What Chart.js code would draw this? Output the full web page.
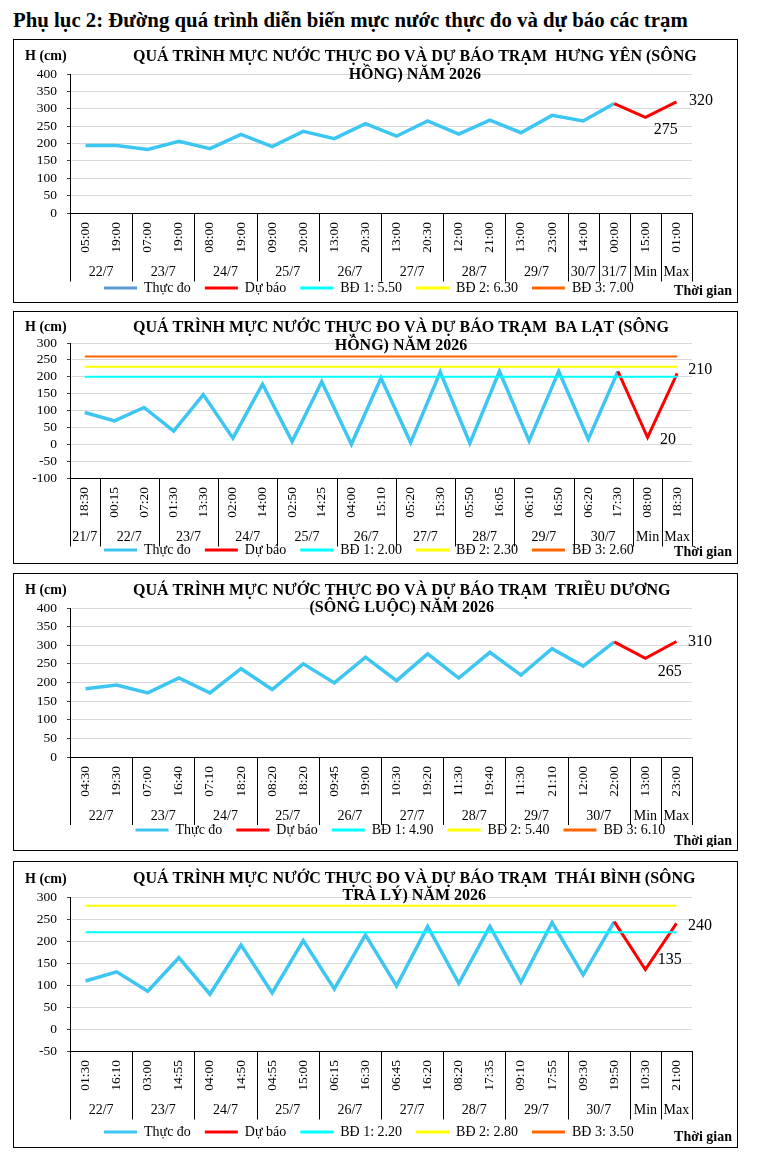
<!DOCTYPE html>
<html lang="vi">
<head>
<meta charset="utf-8">
<title>Phụ lục 2</title>
<script src="https://cdn.jsdelivr.net/npm/chart.js@4.4.1/dist/chart.umd.min.js"></script>
<style>
  html, body { margin: 0; padding: 0; background: #fff; }
  body { width: 760px; height: 1166px; position: relative; font-family: 'Liberation Serif', 'Times New Roman', serif; }
  h1 { position: absolute; left: 13px; top: 8px; margin: 0; font-size: 20.8px; font-weight: bold; line-height: 24px; white-space: nowrap; }
  .frame { position: absolute; left: 13px; width: 725px; border: 1px solid #000; box-sizing: border-box; }
  canvas { position: absolute; left: 14px; }
</style>
</head>
<body>
<h1>Phụ lục 2: Đường quá trình diễn biến mực nước thực đo và dự báo các trạm</h1>
<div class="frame" id="f1"></div><canvas id="c1"></canvas>
<div class="frame" id="f2"></div><canvas id="c2"></canvas>
<div class="frame" id="f3"></div><canvas id="c3"></canvas>
<div class="frame" id="f4"></div><canvas id="c4"></canvas>
<script>
// ---- data (cm) ----
// Hưng Yên (sông Hồng)
const hyTimes = ['05:00','19:00','07:00','19:00','08:00','19:00','09:00','20:00','13:00','20:30','13:00','20:30','12:00','21:00','13:00','23:00','14:00','00:00','15:00','01:00'];
const hyDays = ['22/7','22/7','23/7','23/7','24/7','24/7','25/7','25/7','26/7','26/7','27/7','27/7','28/7','28/7','29/7','29/7','30/7','31/7','Min','Max'];
const hyObserved = [194, 194, 183, 206, 185, 226, 191, 235, 214, 257, 221, 265, 227, 267, 231, 281, 265, 315];
const hyForecast = [315, 275, 320];
const hyLevels = [550, 630, 700];
const hyRange = [0, 400];

// Ba Lạt (sông Hồng)
const blTimes = ['18:30','00:15','07:20','01:30','13:30','02:00','14:00','02:50','14:25','04:00','15:10','05:20','15:30','05:50','16:05','06:10','16:50','06:20','17:30','08:00','18:30'];
const blDays = ['21/7','22/7','22/7','23/7','23/7','24/7','24/7','25/7','25/7','26/7','26/7','27/7','27/7','28/7','28/7','29/7','29/7','30/7','30/7','Min','Max'];
const blObserved = [94, 69, 109, 39, 147, 18, 178, 8, 185, 0, 196, 5, 214, 3, 216, 10, 216, 15, 216];
const blForecast = [216, 20, 210];
const blLevels = [200, 230, 260];
const blRange = [-100, 300];

// Triều Dương (sông Luộc)
const tdTimes = ['04:30','19:30','07:00','16:40','07:10','18:20','08:20','18:20','09:45','19:00','10:30','19:20','11:30','19:40','11:30','21:10','12:00','22:00','13:00','23:00'];
const tdDays = ['22/7','22/7','23/7','23/7','24/7','24/7','25/7','25/7','26/7','26/7','27/7','27/7','28/7','28/7','29/7','29/7','30/7','30/7','Min','Max'];
const tdObserved = [183, 193, 172, 212, 172, 237, 181, 250, 199, 268, 205, 277, 212, 281, 220, 291, 244, 309];
const tdForecast = [309, 265, 310];
const tdLevels = [490, 540, 610];
const tdRange = [0, 400];

// Thái Bình (sông Trà Lý)
const tbTimes = ['01:30','16:10','03:00','14:55','04:00','14:50','04:55','15:00','06:15','16:30','06:45','16:20','08:20','17:35','09:10','17:55','09:30','19:50','10:30','21:00'];
const tbDays = ['22/7','22/7','23/7','23/7','24/7','24/7','25/7','25/7','26/7','26/7','27/7','27/7','28/7','28/7','29/7','29/7','30/7','30/7','Min','Max'];
const tbObserved = [109, 130, 86, 162, 79, 191, 82, 201, 91, 214, 98, 233, 104, 233, 106, 242, 123, 244];
const tbForecast = [244, 135, 240];
const tbLevels = [220, 280, 350];
const tbRange = [-50, 300];

// ---- styles ----
const FONT = "'Liberation Serif', 'Times New Roman', serif";
const OBS_COLOR = '#3EC6F3';
const FC_COLOR = '#FF0000';
const BD_COLORS = ['#00FFFF', '#FFFF00', '#FF6600'];
const CANVAS_LEFT = 14, CANVAS_RIGHT = 737, PLOT_LEFT = 70, TITLE_LEFT = 133;

function makeChart(id, titles, times, days, observed, forecast, levels, range, lay, obsLegendColor) {
    const frame = document.getElementById('f' + id);
    frame.style.top = lay.top + 'px';
    frame.style.height = (lay.bottom - lay.top + 1) + 'px';

    const canvasTop = lay.top + 1;
    const canvasH = lay.legendY + 17 - canvasTop;
    const canvas = document.getElementById('c' + id);
    canvas.style.top = canvasTop + 'px';
    canvas.width = CANVAS_RIGHT - CANVAS_LEFT;
    canvas.height = canvasH;

    const n = times.length;
    const fcStart = n - forecast.length;
    const obsData = times.map((t, i) => i < observed.length ? observed[i] : null);
    const fcData = times.map((t, i) => i >= fcStart ? forecast[i - fcStart] : null);

    const datasets = [
        { label: 'Thực đo', data: obsData, borderColor: OBS_COLOR, backgroundColor: OBS_COLOR, borderWidth: 3.5, order: 3, legendColor: obsLegendColor || OBS_COLOR },
        { label: 'Dự báo', data: fcData, borderColor: FC_COLOR, backgroundColor: FC_COLOR, borderWidth: 3, order: 2 }
    ];
    levels.forEach((v, k) => {
        datasets.push({
            label: 'BĐ ' + (k + 1) + ': ' + (v / 100).toFixed(2),
            data: times.map(() => v),
            borderColor: BD_COLORS[k], backgroundColor: BD_COLORS[k], borderWidth: 2, order: 1
        });
    });

    const ox = CANVAS_LEFT, oy = canvasTop;

    const decor = {
        id: 'decor' + id,
        afterLayout(chart) {
            // put the legend row where the original has it
            const lg = chart.legend;
            if (!lg || !lg.lineWidths) return;
            const p = lg.options.labels.padding;
            const cur = (lg.left + p + lg.right - lg.lineWidths[0]) / 2;
            const dx = (lay.legendX - ox) - cur;
            lg.left += dx;
            lg.right += dx;
        },
        afterDraw(chart) {
            const ctx = chart.ctx;
            const xs = chart.scales.x;
            const area = chart.chartArea;
            ctx.save();
            ctx.fillStyle = '#000';

            // title
            ctx.font = 'bold 16px ' + FONT;
            ctx.textBaseline = 'alphabetic';
            ctx.textAlign = 'center';
            const cx = TITLE_LEFT - ox + ctx.measureText(titles[0]).width / 2;
            ctx.fillText(titles[0], cx, lay.title[0] - oy);
            ctx.fillText(titles[1], cx, lay.title[1] - oy);

            // axis name
            ctx.font = 'bold 14px ' + FONT;
            ctx.textAlign = 'left';
            ctx.fillText('H (cm)', 25 - ox, lay.hcm - oy);

            // day groups under the time labels
            const half = (xs.getPixelForTick(1) - xs.getPixelForTick(0)) / 2;
            ctx.font = '14px ' + FONT;
            ctx.textAlign = 'center';
            ctx.textBaseline = 'middle';
            ctx.strokeStyle = '#000';
            ctx.lineWidth = 1;
            const edges = [];
            let start = 0;
            for (let i = 1; i <= n; i++) {
                if (i === n || days[i] !== days[start]) {
                    const l = xs.getPixelForTick(start) - half;
                    const r = xs.getPixelForTick(i - 1) + half;
                    ctx.fillText(days[start], (l + r) / 2, lay.dayY - oy);
                    if (start === 0) edges.push(l);
                    edges.push(r);
                    start = i;
                }
            }
            ctx.beginPath();
            edges.forEach(px => {
                const xx = Math.round(px) + 0.5;
                ctx.moveTo(xx, area.bottom);
                ctx.lineTo(xx, lay.sepBottom - oy);
            });
            ctx.stroke();

            // forecast min / max values
            const pts = chart.getDatasetMeta(1).data;
            ctx.font = '16px ' + FONT;
            ctx.textAlign = 'left';
            const pMin = pts[n - 2], pMax = pts[n - 1];
            ctx.fillText(String(fcData[n - 2]), pMin.x + lay.minOff[0], pMin.y + lay.minOff[1]);
            ctx.fillText(String(fcData[n - 1]), pMax.x + lay.maxOff[0], pMax.y + lay.maxOff[1]);

            // x axis name
            ctx.font = 'bold 14px ' + FONT;
            ctx.textAlign = 'right';
            ctx.fillText('Thời gian', 732 - ox, lay.timeY - oy);
            ctx.restore();
        }
    };

    return new Chart(canvas.getContext('2d'), {
        type: 'line',
        data: { labels: times, datasets: datasets },
        options: {
            responsive: false,
            animation: false,
            layout: { padding: { top: lay.plotTop - canvasTop, right: CANVAS_RIGHT - lay.plotRight, left: 0, bottom: 0 } },
            elements: { point: { radius: 0, hoverRadius: 0 }, line: { tension: 0 } },
            scales: {
                x: {
                    offset: true,
                    grid: { display: false, drawTicks: false },
                    border: { display: true, color: '#000', width: 1 },
                    ticks: { autoSkip: false, minRotation: 90, maxRotation: 90, padding: 9, color: '#000', font: { family: FONT, size: 13.5 } },
                    afterFit: s => { s.height = lay.legendY - 21 - lay.plotBottom; }
                },
                y: {
                    min: range[0],
                    max: range[1],
                    grid: { color: '#D9D9D9', lineWidth: 1, drawTicks: true, tickLength: 3, tickColor: '#404040' },
                    border: { display: true, color: '#000', width: 1 },
                    ticks: { stepSize: 50, autoSkip: false, padding: 10, color: '#000', font: { family: FONT, size: 13.5 } },
                    afterFit: s => { s.width = PLOT_LEFT - CANVAS_LEFT; }
                }
            },
            plugins: {
                title: { display: false },
                tooltip: { enabled: false },
                legend: {
                    position: 'bottom',
                    labels: {
                        boxWidth: 33,
                        boxHeight: 3,
                        padding: 14,
                        color: '#000',
                        font: { family: FONT, size: 14 },
                        generateLabels: chart => chart.data.datasets.map((ds, i) => ({
                            text: ds.label,
                            fillStyle: ds.legendColor || ds.borderColor,
                            strokeStyle: ds.legendColor || ds.borderColor,
                            lineWidth: 0,
                            hidden: false,
                            datasetIndex: i,
                            fontColor: '#000'
                        }))
                    }
                }
            }
        },
        plugins: [decor]
    });
}

makeChart(1,
    ['QUÁ TRÌNH MỰC NƯỚC THỰC ĐO VÀ DỰ BÁO TRẠM  HƯNG YÊN (SÔNG', 'HỒNG) NĂM 2026'],
    hyTimes, hyDays, hyObserved, hyForecast, hyLevels, hyRange,
    { top: 39, bottom: 302, plotTop: 74, plotBottom: 213, plotRight: 692, title: [61, 79], hcm: 60,
      dayY: 272.5, sepBottom: 281.5, legendY: 288, legendX: 104, timeY: 291, maxOff: [12.5, -1], minOff: [8.5, 12.5] },
    '#5B9BD5');

makeChart(2,
    ['QUÁ TRÌNH MỰC NƯỚC THỰC ĐO VÀ DỰ BÁO TRẠM  BA LẠT (SÔNG', 'HỒNG) NĂM 2026'],
    blTimes, blDays, blObserved, blForecast, blLevels, blRange,
    { top: 311, bottom: 563, plotTop: 343, plotBottom: 478, plotRight: 692, title: [331.5, 349.5], hcm: 330.5,
      dayY: 537.5, sepBottom: 546.5, legendY: 550, legendX: 104, timeY: 552.5, maxOff: [11, -4], minOff: [12.5, 2] });

makeChart(3,
    ['QUÁ TRÌNH MỰC NƯỚC THỰC ĐO VÀ DỰ BÁO TRẠM  TRIỀU DƯƠNG', '(SÔNG LUỘC) NĂM 2026'],
    tdTimes, tdDays, tdObserved, tdForecast, tdLevels, tdRange,
    { top: 573, bottom: 850, plotTop: 608, plotBottom: 757, plotRight: 692, title: [595, 612], hcm: 594,
      dayY: 816.5, sepBottom: 825, legendY: 830, legendX: 135.5, timeY: 841, maxOff: [11.5, 0.5], minOff: [12.5, 14] });

makeChart(4,
    ['QUÁ TRÌNH MỰC NƯỚC THỰC ĐO VÀ DỰ BÁO TRẠM  THÁI BÌNH (SÔNG', 'TRÀ LÝ) NĂM 2026'],
    tbTimes, tbDays, tbObserved, tbForecast, tbLevels, tbRange,
    { top: 861, bottom: 1147, plotTop: 897, plotBottom: 1051, plotRight: 692, title: [883, 900], hcm: 883,
      dayY: 1110.5, sepBottom: 1119.5, legendY: 1132, legendX: 104, timeY: 1137, maxOff: [11.5, 2], minOff: [12.5, -9.5] });
</script>
</body>
</html>
